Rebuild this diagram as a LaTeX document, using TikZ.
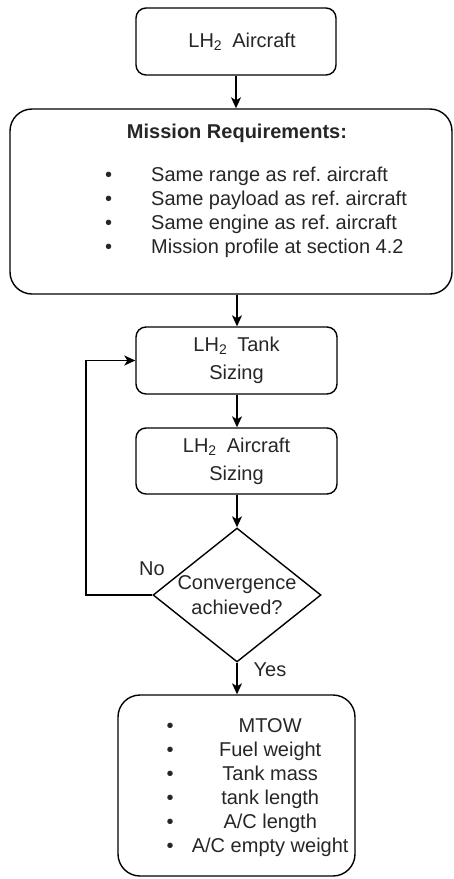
\documentclass[tikz,border=0pt]{standalone}
\usepackage{fontspec}
\setmainfont{Liberation Sans}
\usetikzlibrary{arrows.meta,shapes.geometric}
\newcommand\lhtwo{LH\textsubscript{2}\hspace{0.5em}}
\begin{document}
\begin{tikzpicture}[x=1pt,y=-1pt,
  every node/.style={font=\fontsize{20}{24}\selectfont, text=black!85},
  box/.style={draw=black, line width=1.4pt, rounded corners=10pt, inner sep=0pt,
    align=center, font=\fontsize{20}{28}\selectfont},
  bigbox/.style={draw=black, line width=1.4pt, rounded corners=22pt, inner sep=0pt},
  flow/.style={line width=1.4pt, -{Stealth[length=11pt,width=10pt,inset=3pt]}}]
\useasboundingbox (0,0) rectangle (454,879);

% process boxes
\node[box, minimum width=200pt, minimum height=67pt] (start) at (236,41.5)
  {\hspace{12pt}\lhtwo Aircraft};

\node[bigbox, minimum width=442pt, minimum height=185pt] (req) at (231,201.5) {};
\node[font=\bfseries\fontsize{20}{24}\selectfont] (reqtitle) at (237,133)
  {Mission Requirements:};
\node[anchor=west, inner sep=0pt] (reqlist) at (105,212.5)
  {\begin{tabular}{@{}c@{\hspace{39pt}}l@{}}
   \textbullet & Same range as ref.\ aircraft\\
   \textbullet & Same payload as ref.\ aircraft\\
   \textbullet & Same engine as ref.\ aircraft\\
   \textbullet & Mission profile at section 4.2
   \end{tabular}};

\node[box, minimum width=201pt, minimum height=67pt] (tank) at (236.5,360.5)
  {\lhtwo Tank\\Sizing};
\node[box, minimum width=201pt, minimum height=66pt] (acsize) at (236.5,461)
  {\lhtwo Aircraft\\Sizing};

% decision
\node[diamond, draw=black, line width=1.4pt, minimum width=168pt, minimum height=134pt,
  inner sep=0pt] (dec) at (237,595) {};
\node[align=center, inner sep=0pt, font=\fontsize{20}{25}\selectfont] (dectext)
  at (dec.center) {Convergence\\achieved?};

% results
\node[bigbox, minimum width=237pt, minimum height=181pt] (out) at (236.5,785.5) {};
\node[anchor=west, inner sep=0pt] (outlist) at (166.5,787.5)
  {\begin{tabular}{@{}c@{}l@{}}
   \textbullet & \makebox[193pt]{MTOW}\\
   \textbullet & \makebox[193pt]{Fuel weight}\\
   \textbullet & \makebox[193pt]{Tank mass}\\
   \textbullet & \makebox[193pt]{tank length}\\
   \textbullet & \makebox[193pt]{A/C length}\\
   \textbullet & \makebox[193pt]{A/C empty weight}
   \end{tabular}};

% connectors
\coordinate (loop) at (86,595);
\draw[flow] (start.south) -- (start.south |- req.north);
\draw[flow] (req.south -| dec.north) -- (dec.north |- tank.north);
\draw[flow] (tank.south -| dec.north) -- (dec.north |- acsize.north);
\draw[flow] (acsize.south -| dec.north) -- (dec.north);
\draw[flow] (dec.south) -- (dec.south |- out.north);
\draw[flow] (dec.west) -- (loop) |- (tank.west);

\node (nolbl) at (152,569) {No};
\node (yeslbl) at (270,670) {Yes};
\end{tikzpicture}
\end{document}
